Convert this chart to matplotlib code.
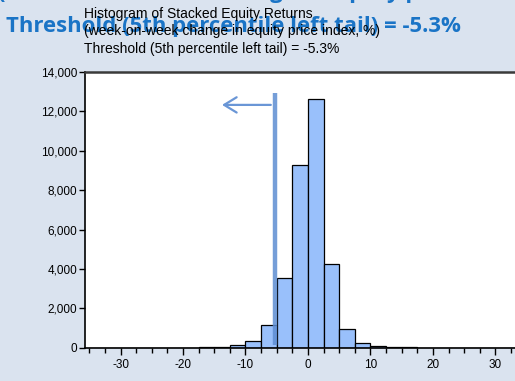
import numpy as np
import matplotlib
matplotlib.use("Agg")
import matplotlib.pyplot as plt
from matplotlib.ticker import FuncFormatter, MultipleLocator

# Weekly equity-return histogram: bins of 2.5 percentage points
bin_left = np.arange(-35.0, 35.0, 2.5)
counts = [0, 0, 0, 0, 0, 0, 5, 15, 60, 120, 330, 1140, 3560, 9280,
          12620, 4250, 940, 255, 85, 40, 20, 8, 4, 8, 2, 0, 0, 0]
bin_width = 2.5
threshold = -5.3

headline = "Threshold (5th percentile left tail) = -5.3%"
headline_above = "(Distribution of the change in equity price index, %)"
title_lines = ["Histogram of Stacked Equity Returns",
               "(week-on-week change in equity price index, %)",
               "Threshold (5th percentile left tail) = -5.3%"]
x_ticks = [-30, -20, -10, 0, 10, 20, 30]
y_ticks = [0, 2000, 4000, 6000, 8000, 10000, 12000, 14000]

bg = "#dae3ef"
plt.rcParams["font.family"] = ["Liberation Sans", "DejaVu Sans"]
plt.rcParams["axes.unicode_minus"] = False

fig = plt.figure(figsize=(5.15, 3.81), dpi=100, facecolor=bg)

# Slide headline sitting behind the chart
fig.text(0.012, 0.916, headline, fontsize=15.9, fontweight="bold",
         color="#1a74c6", family="Open Sans", ha="left", va="baseline", zorder=0)
fig.text(-0.004, 1.004, headline_above, fontsize=15.9, fontweight="bold",
         color="#1a74c6", family="Open Sans", ha="left", va="baseline", zorder=0)

ax = fig.add_axes([0.1657, 0.0874, 0.8645, 0.7236])
ax.set_facecolor("white")

ax.bar(bin_left, counts, width=bin_width, align="edge", color="#99c0fb",
       edgecolor="black", linewidth=0.9, zorder=2)

ax.set_xlim(-35.63, 35.63)
ax.set_ylim(0, 14000)

# Threshold marker with left-pointing arrow
ax.plot([threshold, threshold], [140, 12920], color="#5d8dd2", lw=3.2,
        alpha=0.85, solid_capstyle="butt", zorder=4)
ax.annotate("", xy=(-14.2, 12330), xytext=(threshold - 0.2, 12330),
            arrowprops=dict(arrowstyle="->,head_length=0.9,head_width=0.55",
                            color="#6a96d6", lw=1.6), zorder=4)

ax.set_xticks(x_ticks)
ax.xaxis.set_minor_locator(MultipleLocator(2.5))
ax.set_yticks(y_ticks)
ax.yaxis.set_major_formatter(FuncFormatter(lambda v, p: f"{int(v):,}"))

ax.tick_params(axis="x", which="major", direction="out", length=5, width=1,
               labelsize=8.5, pad=3, colors="black")
ax.tick_params(axis="x", which="minor", direction="out", length=3.5, width=1)
ax.tick_params(axis="y", which="major", direction="out", length=4, width=1,
               labelsize=8.5, pad=2, colors="black")

for side in ("left", "bottom"):
    ax.spines[side].set_color("black")
    ax.spines[side].set_linewidth(1.2)
ax.spines["top"].set_color("#3a3a3a")
ax.spines["top"].set_linewidth(1.8)
ax.spines["right"].set_visible(False)

# Chart title block
for i, line in enumerate(title_lines):
    fig.text(0.163, 1 - (14 + 17.5 * i) / 381, line, fontsize=10,
             color="black", ha="left", va="center", zorder=5)

fig.savefig("out.png", dpi=100, facecolor=bg)
